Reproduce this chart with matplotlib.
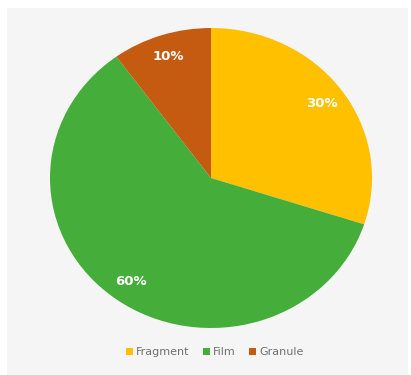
import matplotlib.pyplot as plt
from matplotlib.patches import Rectangle

# Share of each particle shape
labels = ['Fragment', 'Film', 'Granule']
shares = [30, 60, 10]
colors = ['#FFC000', '#45AD3A', '#C55A11']

fig = plt.figure(figsize=(4.11, 3.75), dpi=100)
fig.patch.set_facecolor('white')

# light grey chart area
fig.patches.append(Rectangle((7 / 411, 0), 401 / 411, 367 / 375,
                             transform=fig.transFigure, facecolor='#F5F5F5',
                             edgecolor='none', zorder=-5))

ax = fig.add_axes([50 / 411, 47 / 375, 322 / 411, 300 / 375])
wedges, texts, autotexts = ax.pie(
    shares, labels=None, colors=colors, startangle=90, counterclock=False,
    autopct='%d%%', pctdistance=0.85,
    wedgeprops=dict(linewidth=0),
    textprops=dict(color='white', fontsize=9.5, fontweight='bold'))
ax.set_aspect('auto')
ax.set_xlim(-1, 1)
ax.set_ylim(-1, 1)

fig.legend(wedges, labels, loc='center', bbox_to_anchor=(215 / 411, 1 - 352 / 375),
           ncol=3, frameon=False, fontsize=8, labelcolor='#707070',
           handlelength=0.6, handleheight=0.6, handletextpad=0.3,
           columnspacing=1.2)

fig.savefig('out.png', dpi=100, facecolor='white')
